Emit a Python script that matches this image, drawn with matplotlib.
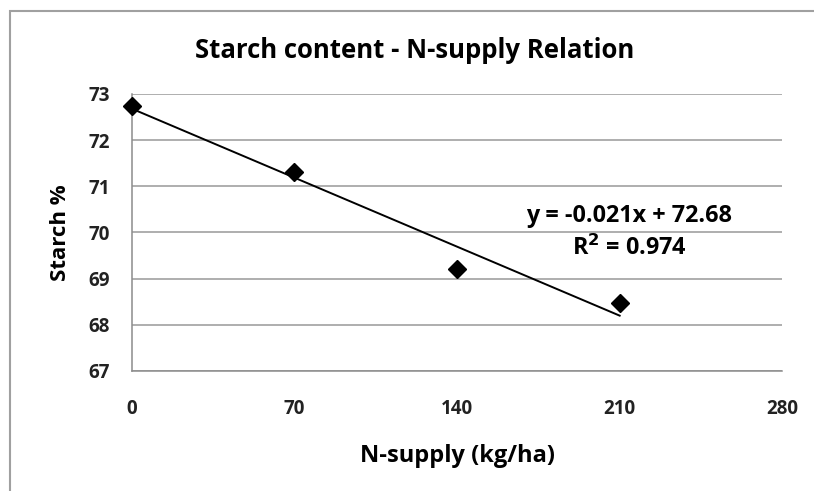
import numpy as np
import matplotlib
matplotlib.use("Agg")
import matplotlib.pyplot as plt
from matplotlib.patches import Rectangle

# data
n_supply = [0, 70, 140, 210]
starch = [72.75, 71.32, 69.22, 68.47]
x_ticks = [0, 70, 140, 210, 280]
y_ticks = [67, 68, 69, 70, 71, 72, 73]

plt.rcParams['font.family'] = ['Open Sans', 'DejaVu Sans']
plt.rcParams['font.weight'] = 'bold'

fig = plt.figure(figsize=(8.14, 4.91), dpi=100)
# outer chart border (only left and top visible in the crop)
fig.patches.append(Rectangle((10 / 814, -0.1), 1.2, 1 - 11 / 491 + 0.1,
                             transform=fig.transFigure, fill=False,
                             edgecolor='#a0a0a0', linewidth=1.5))

ax = fig.add_axes([0.162, 0.2444, 0.799, 0.5642])

# linear trendline
slope, intercept = np.polyfit(n_supply, starch, 1)
fit_x = np.array([n_supply[0], n_supply[-1]])
ax.plot(fit_x, slope * fit_x + intercept, color='black', linewidth=1.4, zorder=3)
ax.plot(n_supply, starch, linestyle='none', marker='D', markersize=9,
        color='black', zorder=4, clip_on=False)

ax.set_xlim(0, 280)
ax.set_ylim(67, 73)
ax.set_xticks(x_ticks)
ax.set_yticks(y_ticks)
ax.grid(axis='y', color='#999999', linewidth=1.1)
ax.set_axisbelow(True)
for s in ['top', 'right']:
    ax.spines[s].set_visible(False)
for s in ['left', 'bottom']:
    ax.spines[s].set_color('#8c8c8c')
    ax.spines[s].set_linewidth(1.1)
ax.tick_params(length=0, labelsize=13.5, colors='#222222')
ax.tick_params(axis='y', pad=16)
ax.tick_params(axis='x', pad=20)

ax.set_title('Starch content - N-supply Relation', fontsize=18.5,
             fontweight='bold', pad=26, x=0.435)
ax.set_xlabel('N-supply (kg/ha)', fontsize=17, fontweight='bold', labelpad=18)
ax.set_ylabel('Starch %', fontsize=16, fontweight='bold', labelpad=12)

ax.text(0.765, 0.5, 'y = %.3fx + %.2f\nR$^2$ = 0.974' % (slope, intercept),
        transform=ax.transAxes, ha='center', va='center', fontsize=16.8,
        fontweight='bold', linespacing=1.4)

fig.savefig('out.png', dpi=100)
